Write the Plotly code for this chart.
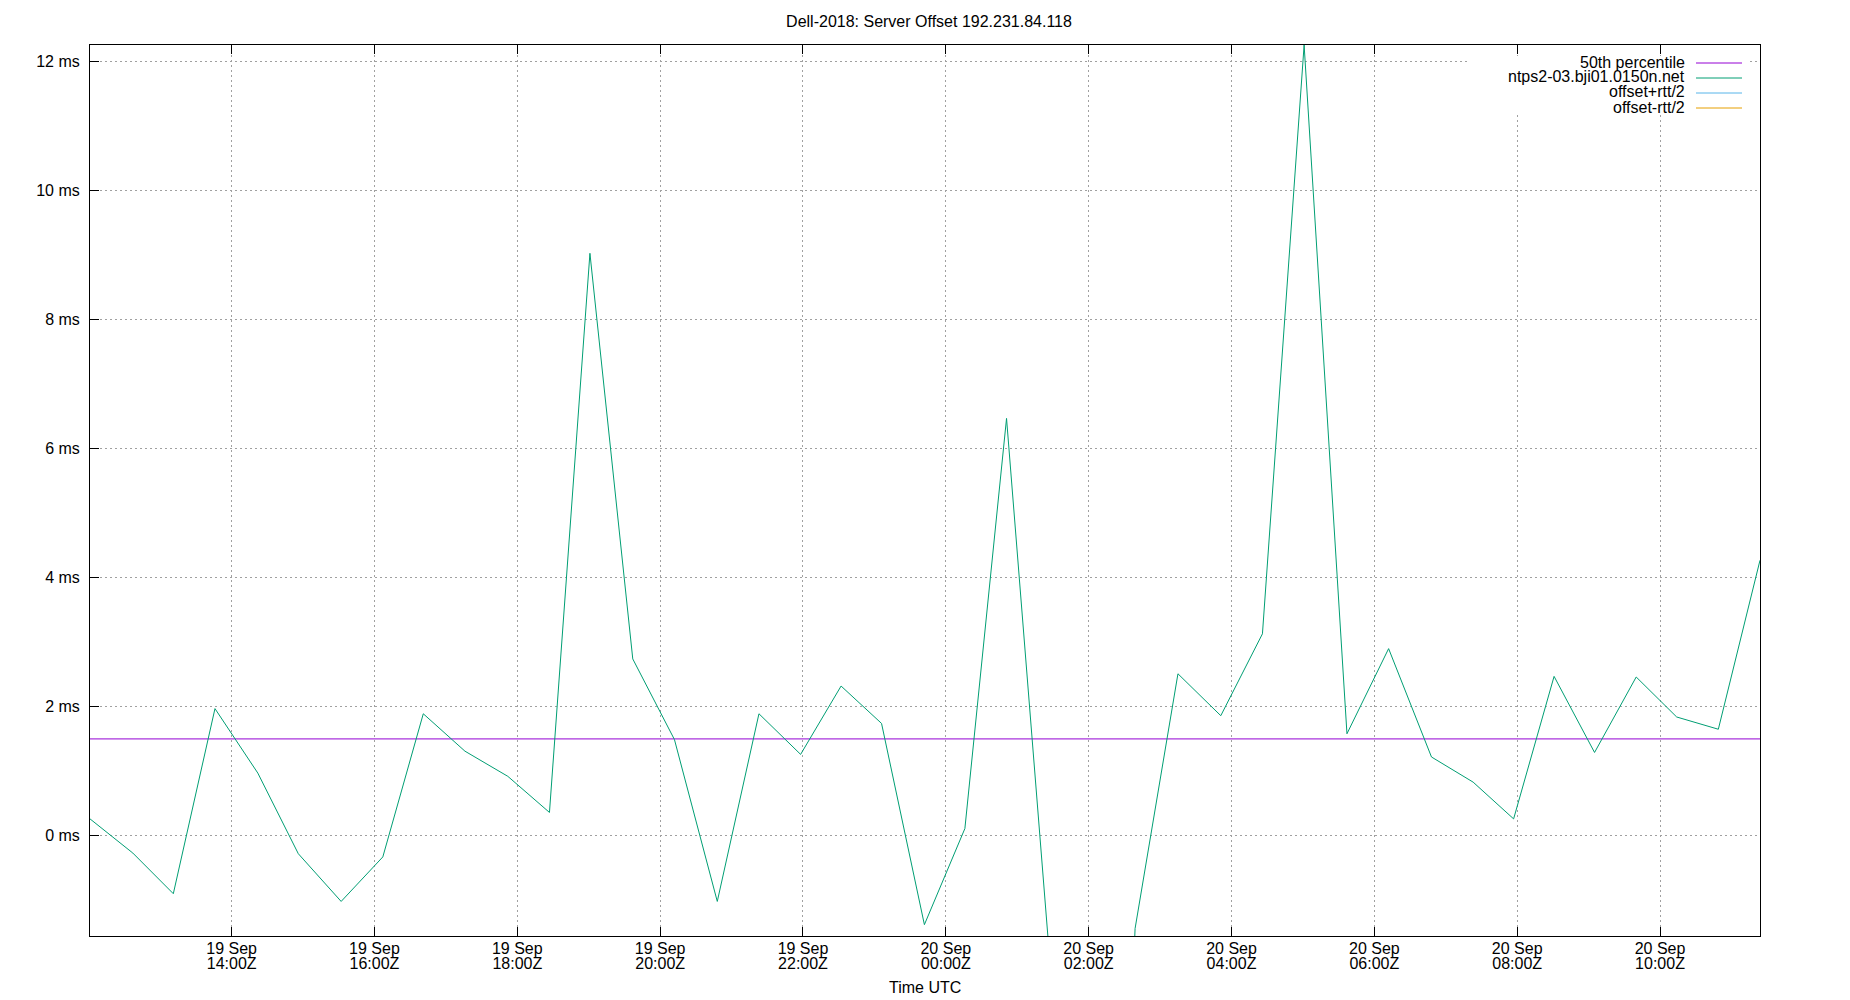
import plotly.graph_objects as go

# Offset samples (UTC time, ms)
times = [
    "2018-09-19 12:01", "2018-09-19 12:37", "2018-09-19 13:11", "2018-09-19 13:46",
    "2018-09-19 14:22", "2018-09-19 14:56", "2018-09-19 15:32", "2018-09-19 16:07",
    "2018-09-19 16:41", "2018-09-19 17:16", "2018-09-19 17:52", "2018-09-19 18:27",
    "2018-09-19 19:01", "2018-09-19 19:37", "2018-09-19 20:12", "2018-09-19 20:48",
    "2018-09-19 21:23", "2018-09-19 21:58", "2018-09-19 22:32", "2018-09-19 23:06",
    "2018-09-19 23:42", "2018-09-20 00:16", "2018-09-20 00:51", "2018-09-20 01:26",
    "2018-09-20 02:02", "2018-09-20 02:39", "2018-09-20 03:15", "2018-09-20 03:51",
    "2018-09-20 04:26", "2018-09-20 05:01", "2018-09-20 05:37", "2018-09-20 06:12",
    "2018-09-20 06:48", "2018-09-20 07:23", "2018-09-20 07:57", "2018-09-20 08:31",
    "2018-09-20 09:05", "2018-09-20 09:40", "2018-09-20 10:14", "2018-09-20 10:49",
    "2018-09-20 11:24",
]
offset_ms = [
    0.26, -0.27, -0.90, 1.97, 0.97, -0.28, -1.02, -0.33, 1.89, 1.31, 0.92, 0.36,
    9.03, 2.74, 1.49, -1.02, 1.89, 1.26, 2.32, 1.74, -1.38, 0.11, 6.47, -1.62,
    -18.0, -1.44, 2.51, 1.86, 3.13, 12.26, 1.58, 2.90, 1.22, 0.83, 0.26, 2.47,
    1.29, 2.46, 1.84, 1.65, 4.27,
]
p50_ms = 1.50

tick_times = [
    "2018-09-19 14:00", "2018-09-19 16:00", "2018-09-19 18:00", "2018-09-19 20:00",
    "2018-09-19 22:00", "2018-09-20 00:00", "2018-09-20 02:00", "2018-09-20 04:00",
    "2018-09-20 06:00", "2018-09-20 08:00", "2018-09-20 10:00",
]
tick_dates = ["19 Sep"] * 5 + ["20 Sep"] * 6
tick_hours = ["14:00Z", "16:00Z", "18:00Z", "20:00Z", "22:00Z", "00:00Z",
              "02:00Z", "04:00Z", "06:00Z", "08:00Z", "10:00Z"]
y_ticks = [0, 2, 4, 6, 8, 10, 12]

legend_names = ["50th percentile", "ntps2-03.bji01.0150n.net", "offset+rtt/2", "offset-rtt/2"]
legend_colors = ["#9400d3", "#009e73", "#56b4e9", "#e69f00"]

FONT = "Liberation Sans, Arial, sans-serif"
# the page body has an 8px margin, so the figure is shrunk by that much
OFF = 8
W, H = 1850 - OFF, 1000 - OFF
# plot box in page pixels
L, R, T, B = 90, 1760, 45, 936


def px_x(px):
    return (px - L) / (R - L)


def px_y(py):
    return (B - py) / (B - T)


fig = go.Figure()

# 50th percentile line
fig.add_trace(go.Scatter(
    x=[times[0], times[-1]], y=[p50_ms, p50_ms], mode="lines",
    line=dict(color=legend_colors[0], width=1), showlegend=False, hoverinfo="skip"))

# server offset, on the overlay axis that carries the hour labels
fig.add_trace(go.Scatter(
    x=times, y=offset_ms, mode="lines", xaxis="x2",
    line=dict(color=legend_colors[1], width=1), showlegend=False))

grid = dict(showgrid=True, gridcolor="#a0a0a0", gridwidth=1, griddash="2px,3px")
frame = dict(showline=True, linecolor="black", linewidth=1,
             ticks="inside", ticklen=9, tickcolor="black", zeroline=False)

fig.update_layout(
    width=W, height=H,
    margin=dict(l=L - OFF, r=1850 - R, t=T - OFF, b=1000 - B),
    paper_bgcolor="white", plot_bgcolor="white",
    font=dict(family=FONT, size=16, color="black"),
    title=dict(text="Dell-2018: Server Offset 192.231.84.118", x=0.5, xanchor="center",
               y=1 - (21 - OFF) / H, yanchor="middle", font=dict(size=16)),
    xaxis=dict(type="date", range=[times[0], times[-1]], tickmode="array",
               tickvals=tick_times, ticktext=tick_dates, ticklabelstandoff=-2,
               mirror="ticks", **grid, **frame),
    xaxis2=dict(type="date", range=[times[0], times[-1]], overlaying="x", side="bottom",
                anchor="y", tickmode="array", tickvals=tick_times, ticktext=tick_hours,
                showgrid=False, showline=False, ticks="", zeroline=False,
                ticklabelstandoff=16),
    yaxis=dict(range=[-1.556, 12.26], tickmode="array", tickvals=y_ticks,
               ticktext=[f"{v} ms" for v in y_ticks], ticklabelstandoff=6,
               mirror=True, **grid, **frame),
    showlegend=False,
)

# x axis title
fig.add_annotation(text="Time UTC", xref="paper", yref="paper", x=0.5, y=px_y(987),
                   xanchor="center", yanchor="middle", showarrow=False, font=dict(size=16))

# gnuplot-style key: opaque box, right-aligned labels with the sample line after them
fig.add_shape(type="rect", xref="paper", yref="paper", x0=px_x(1468), x1=px_x(1750),
              y0=px_y(56), y1=px_y(113), fillcolor="white", line=dict(width=0),
              layer="above")
for i, (name, color) in enumerate(zip(legend_names, legend_colors)):
    row_y = 62 + 15 * i
    fig.add_annotation(text=name, xref="paper", yref="paper", x=px_x(1687), y=px_y(row_y),
                       xanchor="right", yanchor="middle", showarrow=False,
                       font=dict(size=16))
    fig.add_shape(type="line", xref="paper", yref="paper", x0=px_x(1696), x1=px_x(1742),
                  y0=px_y(row_y + 1), y1=px_y(row_y + 1), line=dict(color=color, width=1),
                  layer="above")

fig.write_html("out.html")
